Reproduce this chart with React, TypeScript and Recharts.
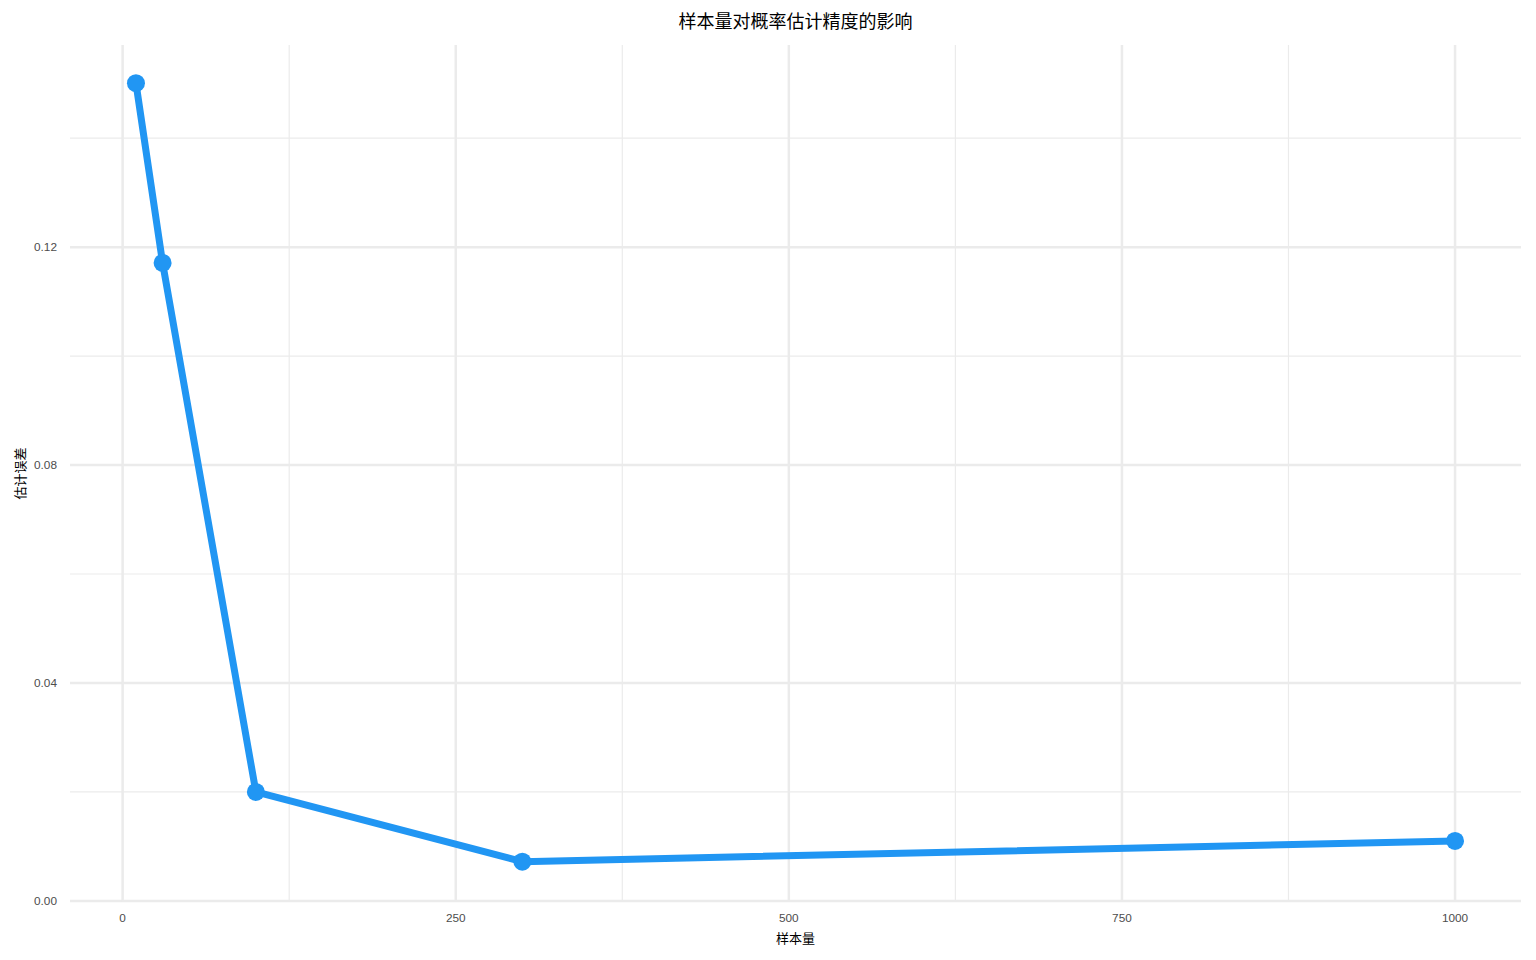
import { Line, LineChart, ReferenceLine, XAxis, YAxis } from "recharts";

const sampleSizes = [10, 30, 100, 300, 1000];
const estimateErrors = [0.1501, 0.1171, 0.02, 0.0072, 0.011];

const xMajorTicks = [0, 250, 500, 750, 1000];
const xMinorTicks = [125, 375, 625, 875];
const yMajorTicks = [0, 0.04, 0.08, 0.12];
const yMinorTicks = [0.02, 0.06, 0.1, 0.14];

const data = sampleSizes.map((n, i) => ({ n, error: estimateErrors[i] }));

const GRID = "#EBEBEB";
const BLUE = "#2196F3";
const FONT = '"Liberation Sans", Arial, "Noto Sans CJK SC", sans-serif';
const CJK = '"Noto Sans CJK SC", sans-serif';

export default function App() {
  return (
    <div style={{ position: "absolute", left: 0, top: 0, width: 1536, height: 960, background: "#fff", fontFamily: FONT }}>
      <div
        style={{
          position: "absolute",
          left: 70,
          width: 1451,
          top: 8,
          textAlign: "center",
          fontSize: 18,
          lineHeight: "24px",
          color: "#000",
          fontFamily: CJK
        }}
      >
        样本量对概率估计精度的影响
      </div>
      <LineChart width={1536} height={960} data={data} margin={{ top: 45, right: 15, bottom: 0, left: 0 }}>
        {yMinorTicks.map((v) => (
          <ReferenceLine key={`ym${v}`} y={v} stroke={GRID} strokeWidth={1.2} />
        ))}
        {xMinorTicks.map((v) => (
          <ReferenceLine key={`xm${v}`} x={v} stroke={GRID} strokeWidth={1.2} />
        ))}
        {yMajorTicks.map((v) => (
          <ReferenceLine key={`yM${v}`} y={v} stroke={GRID} strokeWidth={2.5} />
        ))}
        {xMajorTicks.map((v) => (
          <ReferenceLine key={`xM${v}`} x={v} stroke={GRID} strokeWidth={2.5} />
        ))}
        <XAxis
          dataKey="n"
          type="number"
          domain={[-39.5, 1049.5]}
          ticks={xMajorTicks}
          allowDataOverflow
          height={58}
          axisLine={false}
          tickLine={false}
          tickSize={0}
          tickMargin={12}
          tick={{ fill: "#4D4D4D", fontSize: 11.8, fontFamily: FONT }}
          label={{
            value: "样本量",
            position: "insideBottom",
            offset: 17,
            style: { fill: "#000", fontSize: 13, fontFamily: CJK }
          }}
        />
        <YAxis
          type="number"
          domain={[-0.0002, 0.1571]}
          ticks={yMajorTicks}
          allowDataOverflow
          width={70}
          axisLine={false}
          tickLine={false}
          tickSize={0}
          tickMargin={13}
          tickFormatter={(v) => Number(v).toFixed(2)}
          tick={{ fill: "#4D4D4D", fontSize: 11.8, fontFamily: FONT }}
          label={{
            value: "估计误差",
            angle: -90,
            position: "insideLeft",
            offset: 20,
            style: { fill: "#000", fontSize: 13, textAnchor: "middle", fontFamily: CJK }
          }}
        />
        <Line
          type="linear"
          dataKey="error"
          stroke={BLUE}
          strokeWidth={7}
          dot={{ r: 9, fill: BLUE, stroke: "none" }}
          activeDot={false}
          isAnimationActive={false}
        />
      </LineChart>
    </div>
  );
}
